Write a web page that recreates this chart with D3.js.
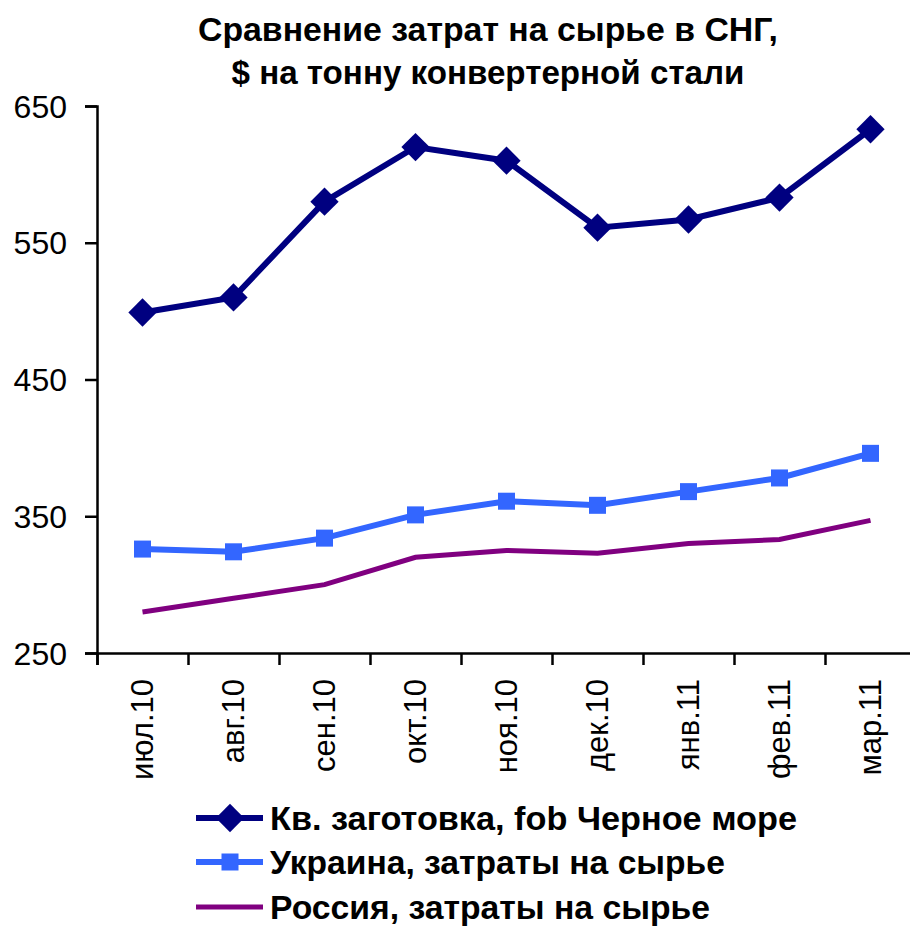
<!DOCTYPE html>
<html>
<head>
<meta charset="utf-8">
<script src="https://cdn.jsdelivr.net/npm/d3@7"></script>
<style>
  body { margin: 0; background: #fff; }
  text { font-family: "Liberation Sans", Arial, sans-serif; }
</style>
</head>
<body>
<div id="main"></div>
<script>
// data
const months = ["июл.10", "авг.10", "сен.10", "окт.10", "ноя.10", "дек.10", "янв.11", "фев.11", "мар.11"]
const billet = [499, 510, 580, 620, 610, 561, 567, 583, 633]
const ukraine = [326, 324, 334, 351, 361, 358, 368, 378, 396]
const russia = [280, 290, 300, 320, 325, 323, 330, 333, 347]
const yTicks = [250, 350, 450, 550, 650]

const seriesNames = ["Кв. заготовка, fob Черное море", "Украина, затраты на сырье", "Россия, затраты на сырье"]

const width = 910, height = 926
const plotLeft = 97, plotRight = 916, plotTop = 106, plotBottom = 653

const svg = d3.select("#main")
    .append("svg")
    .attr("width", width)
    .attr("height", height)

// title (narrow bold, like the original)
const title = svg.append("text")
    .attr("text-anchor", "middle")
    .style("font-weight", "bold")
    .style("font-size", "34px")
title.append("tspan").attr("x", 488).attr("y", 41)
    .attr("textLength", 580).attr("lengthAdjust", "spacingAndGlyphs")
    .text("Сравнение затрат на сырье в СНГ,")
title.append("tspan").attr("x", 488).attr("y", 84)
    .attr("textLength", 513).attr("lengthAdjust", "spacingAndGlyphs")
    .text("$ на тонну конвертерной стали")

const x = d3.scaleBand()
    .domain(months)
    .range([plotLeft, plotRight])

const xEdge = d3.scaleLinear()
    .domain([0, months.length])
    .range([plotLeft, plotRight])

const y = d3.scaleLinear()
    .domain([250, 650])
    .range([plotBottom, plotTop])

// y axis
const yAxis = svg.append("g")
    .attr("transform", `translate(${plotLeft},0)`)
    .call(d3.axisLeft(y).tickValues(yTicks).tickSize(12).tickPadding(18))
yAxis.select(".domain").attr("stroke", "#000").attr("stroke-width", 2.5)
yAxis.selectAll(".tick line").attr("stroke", "#000").attr("stroke-width", 2.5)
yAxis.selectAll(".tick text")
    .style("font-size", "32px")
    .style("font-family", "Liberation Sans, Arial, sans-serif")
    .attr("fill", "#000")
    .attr("dy", "0.35em")

// x axis (ticks at category boundaries)
const xAxis = svg.append("g")
    .attr("transform", `translate(0,${plotBottom})`)
    .call(d3.axisBottom(xEdge).tickValues(d3.range(months.length + 1)).tickSize(12).tickFormat(""))
xAxis.select(".domain").attr("stroke", "#000").attr("stroke-width", 2.5)
xAxis.selectAll(".tick line").attr("stroke", "#000").attr("stroke-width", 2.5)

svg.append("g")
    .selectAll("text")
    .data(months)
    .join("text")
    .attr("transform", d => `translate(${x(d) + x.bandwidth() / 2 + 10},${plotBottom + 26}) rotate(-90)`)
    .attr("text-anchor", "end")
    .style("font-size", "31px")
    .text(d => d)

const cx = i => x(months[i]) + x.bandwidth() / 2
const line = d3.line()
    .x((d, i) => cx(i))
    .y(d => y(d))

// Russia
svg.append("path")
    .datum(russia)
    .attr("d", line)
    .attr("fill", "none")
    .attr("stroke", "#800080")
    .attr("stroke-width", 5)

// Ukraine
svg.append("path")
    .datum(ukraine)
    .attr("d", line)
    .attr("fill", "none")
    .attr("stroke", "#3366FF")
    .attr("stroke-width", 6)

svg.append("g")
    .selectAll("rect")
    .data(ukraine)
    .join("rect")
    .attr("x", (d, i) => cx(i) - 8.5)
    .attr("y", d => y(d) - 8.5)
    .attr("width", 17)
    .attr("height", 17)
    .attr("fill", "#3366FF")

// billet
svg.append("path")
    .datum(billet)
    .attr("d", line)
    .attr("fill", "none")
    .attr("stroke", "#000080")
    .attr("stroke-width", 6)

const diamond = d3.symbol().type(d3.symbolSquare).size(400)
svg.append("g")
    .selectAll("path")
    .data(billet)
    .join("path")
    .attr("d", diamond)
    .attr("transform", (d, i) => `translate(${cx(i)},${y(d)}) rotate(45)`)
    .attr("fill", "#000080")

// legend
const legendY = [818, 862, 907]
const legendColors = ["#000080", "#3366FF", "#800080"]
const legendLen = [527, 455, 440]
const legend = svg.append("g")

legendY.forEach((ly, i) => {
    legend.append("line")
        .attr("x1", 196).attr("x2", 263)
        .attr("y1", ly).attr("y2", ly)
        .attr("stroke", legendColors[i])
        .attr("stroke-width", i === 2 ? 5 : 6)
    legend.append("text")
        .attr("x", 270)
        .attr("y", ly + 12)
        .attr("textLength", legendLen[i])
        .attr("lengthAdjust", "spacingAndGlyphs")
        .style("font-weight", "bold")
        .style("font-size", "33px")
        .text(seriesNames[i])
})
legend.append("path")
    .attr("d", diamond)
    .attr("transform", `translate(230,${legendY[0]}) rotate(45)`)
    .attr("fill", "#000080")
legend.append("rect")
    .attr("x", 230 - 8.5).attr("y", legendY[1] - 8.5)
    .attr("width", 17).attr("height", 17)
    .attr("fill", "#3366FF")
</script>
</body>
</html>
